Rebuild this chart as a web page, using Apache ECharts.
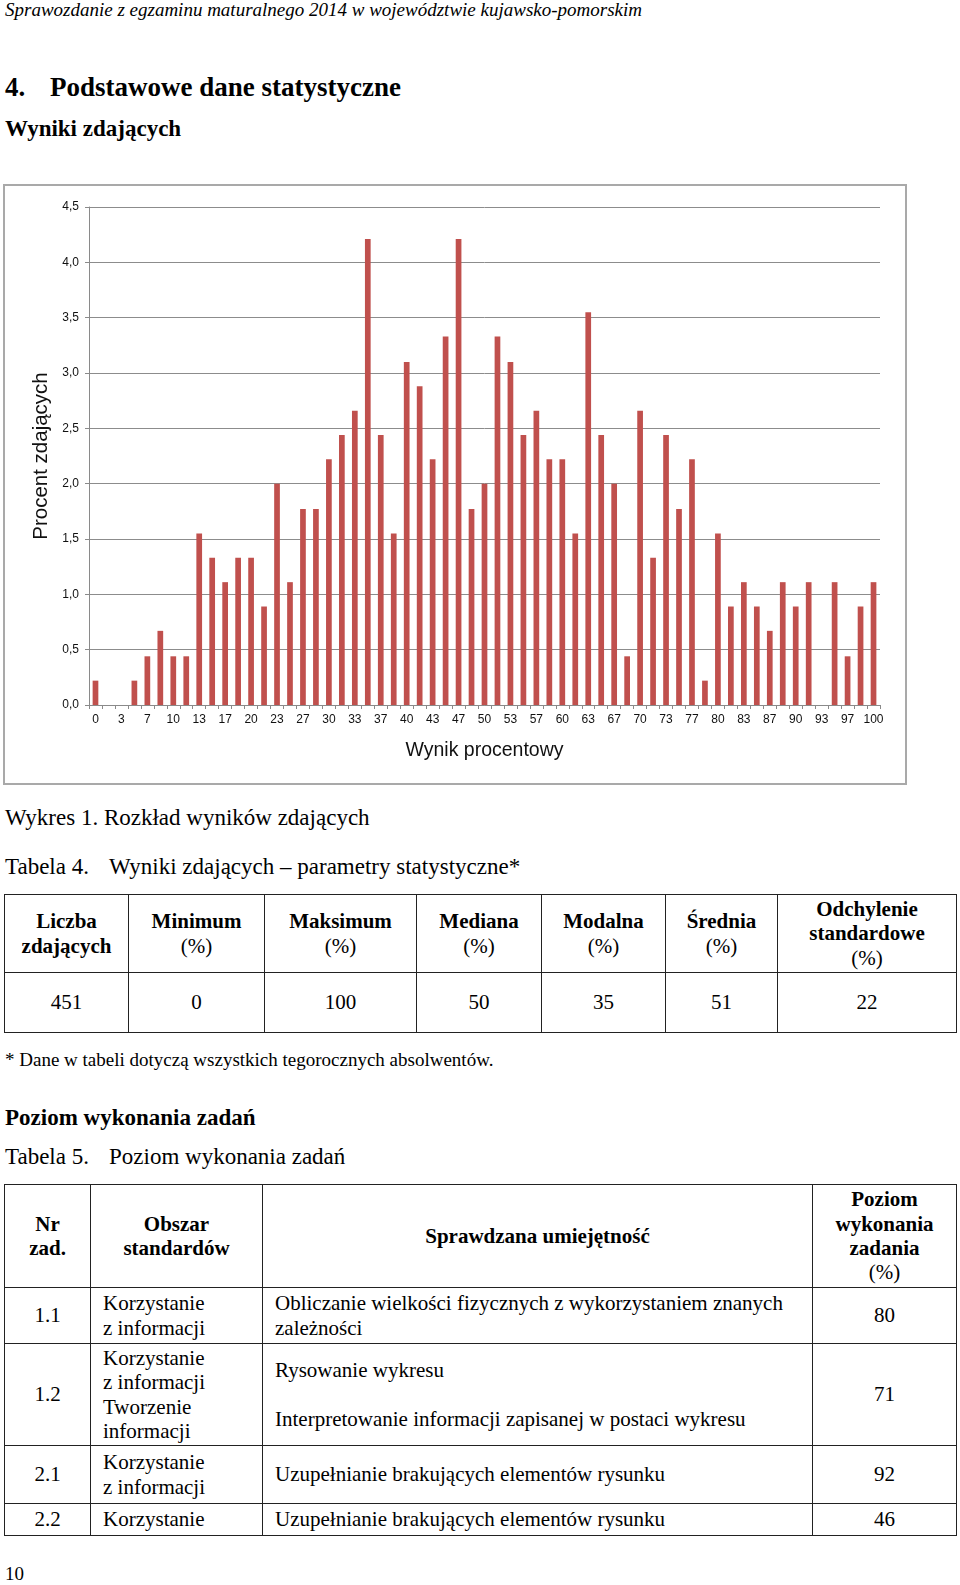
<!DOCTYPE html>
<html>
<head>
<meta charset="utf-8">
<script src="https://cdn.jsdelivr.net/npm/echarts@6/dist/echarts.min.js"></script>
<style>
  html, body { margin: 0; padding: 0; background: #fff; }
  body { width: 960px; height: 1585px; position: relative; overflow: hidden; font-family: 'Liberation Serif', 'Times New Roman', serif; color: #000; }
  .t { position: absolute; white-space: nowrap; line-height: 1; }
  #chart { position: absolute; left: 3px; top: 184px; width: 904px; height: 601px; }
  table { position: absolute; border-collapse: collapse; table-layout: fixed; font-family: 'Liberation Serif', serif; font-size: 21px; line-height: 24.4px; }
  td { border: 1.5px solid #222; padding: 0; vertical-align: middle; }
  .c { text-align: center; }
  .l { text-align: left; padding-left: 12px; }
  .b { font-weight: bold; }
  .n { font-weight: normal; }
</style>
</head>
<body>
<div class="t" style="left:5px; top:0px; font-size:19px; font-style:italic;">Sprawozdanie z egzaminu maturalnego 2014 w województwie kujawsko-pomorskim</div>
<div class="t" style="left:5px; top:74px; font-size:27px; font-weight:bold;">4.</div>
<div class="t" style="left:50px; top:74px; font-size:27px; font-weight:bold;">Podstawowe dane statystyczne</div>
<div class="t" style="left:5px; top:117px; font-size:23px; font-weight:bold;">Wyniki zdających</div>

<div id="chart"></div>

<div class="t" style="left:5px; top:806px; font-size:23px;">Wykres 1. Rozkład wyników zdających</div>
<div class="t" style="left:5px; top:855px; font-size:23px;">Tabela 4.</div>
<div class="t" style="left:109px; top:855px; font-size:23px;">Wyniki zdających – parametry statystyczne*</div>

<table style="left:4px; top:894px; width:952px;">
  <colgroup><col style="width:124px"><col style="width:136px"><col style="width:152px"><col style="width:125px"><col style="width:124px"><col style="width:112px"><col style="width:179px"></colgroup>
  <tr style="height:78px;">
    <td class="c b">Liczba<br>zdających</td>
    <td class="c b">Minimum<br><span class="n">(%)</span></td>
    <td class="c b">Maksimum<br><span class="n">(%)</span></td>
    <td class="c b">Mediana<br><span class="n">(%)</span></td>
    <td class="c b">Modalna<br><span class="n">(%)</span></td>
    <td class="c b">Średnia<br><span class="n">(%)</span></td>
    <td class="c b">Odchylenie<br>standardowe<br><span class="n">(%)</span></td>
  </tr>
  <tr style="height:60px;">
    <td class="c">451</td><td class="c">0</td><td class="c">100</td><td class="c">50</td><td class="c">35</td><td class="c">51</td><td class="c">22</td>
  </tr>
</table>

<div class="t" style="left:5px; top:1050px; font-size:19px;">* Dane w tabeli dotyczą wszystkich tegorocznych absolwentów.</div>
<div class="t" style="left:5px; top:1106px; font-size:23px; font-weight:bold;">Poziom wykonania zadań</div>
<div class="t" style="left:5px; top:1145px; font-size:23px;">Tabela 5.</div>
<div class="t" style="left:109px; top:1145px; font-size:23px;">Poziom wykonania zadań</div>

<table style="left:4px; top:1184px; width:952px;">
  <colgroup><col style="width:86px"><col style="width:172px"><col style="width:550px"><col style="width:144px"></colgroup>
  <tr style="height:103px;">
    <td class="c b">Nr<br>zad.</td>
    <td class="c b">Obszar<br>standardów</td>
    <td class="c b">Sprawdzana umiejętność</td>
    <td class="c b">Poziom<br>wykonania<br>zadania<br><span class="n">(%)</span></td>
  </tr>
  <tr style="height:56px;">
    <td class="c">1.1</td>
    <td class="l">Korzystanie<br>z informacji</td>
    <td class="l">Obliczanie wielkości fizycznych z wykorzystaniem znanych<br>zależności</td>
    <td class="c">80</td>
  </tr>
  <tr style="height:102px;">
    <td class="c">1.2</td>
    <td class="l">Korzystanie<br>z informacji<br>Tworzenie<br>informacji</td>
    <td class="l">Rysowanie wykresu<br><br>Interpretowanie informacji zapisanej w postaci wykresu</td>
    <td class="c">71</td>
  </tr>
  <tr style="height:58px;">
    <td class="c">2.1</td>
    <td class="l">Korzystanie<br>z informacji</td>
    <td class="l">Uzupełnianie brakujących elementów rysunku</td>
    <td class="c">92</td>
  </tr>
  <tr style="height:32px;">
    <td class="c">2.2</td>
    <td class="l">Korzystanie</td>
    <td class="l">Uzupełnianie brakujących elementów rysunku</td>
    <td class="c">46</td>
  </tr>
</table>

<div class="t" style="left:5px; top:1564px; font-size:19px;">10</div>

<script>
// Wynik procentowy (categories, score k/60 in percent)
var categories = ['0','2','3','5','7','8','10','12','13','15',
  '17','18','20','22','23','25','27','28','30','32',
  '33','35','37','38','40','42','43','45','47','48',
  '50','52','53','55','57','58','60','62','63','65',
  '67','68','70','72','73','75','77','78','80','82',
  '83','85','87','88','90','92','93','95','97','98',
  '100'];
// Procent zdających
var percentStudents = [0.22, 0, 0, 0.22, 0.44, 0.67, 0.44, 0.44, 1.55, 1.33,
  1.11, 1.33, 1.33, 0.89, 2.00, 1.11, 1.77, 1.77, 2.22, 2.44,
  2.66, 4.21, 2.44, 1.55, 3.10, 2.88, 2.22, 3.33, 4.21, 1.77,
  2.00, 3.33, 3.10, 2.44, 2.66, 2.22, 2.22, 1.55, 3.55, 2.44,
  2.00, 0.44, 2.66, 1.33, 2.44, 1.77, 2.22, 0.22, 1.55, 0.89,
  1.11, 0.89, 0.67, 1.11, 0.89, 1.11, 0, 1.11, 0.44, 0.89,
  1.11];
var yTickLabels = ['0,0','0,5','1,0','1,5','2,0','2,5','3,0','3,5','4,0','4,5'];

var chart = echarts.init(document.getElementById('chart'), null, { renderer: 'canvas' });
var sans = "'Liberation Sans', Arial, sans-serif";
chart.setOption({
  animation: false,
  backgroundColor: '#fff',
  graphic: [{
    type: 'rect', silent: true, z: 100,
    shape: { x: 1, y: 1, width: 902, height: 599 },
    style: { fill: 'none', stroke: '#a9a9a9', lineWidth: 2 }
  }],
  grid: { left: 86, right: 27, top: 23, bottom: 80, containLabel: false },
  xAxis: {
    type: 'category',
    data: categories,
    name: 'Wynik procentowy',
    nameLocation: 'middle',
    nameGap: 36,
    nameTextStyle: { fontFamily: sans, fontSize: 19.5, color: '#111' },
    axisLine: { show: true, lineStyle: { color: '#8a8a8a', width: 1 } },
    axisTick: { show: true, interval: 0, length: 4, lineStyle: { color: '#8a8a8a' } },
    axisLabel: { interval: 1, fontFamily: sans, fontSize: 12, color: '#111', margin: 9 }
  },
  yAxis: {
    type: 'value',
    min: 0, max: 4.5, interval: 0.5,
    name: 'Procent zdających',
    nameLocation: 'middle',
    nameRotate: 90,
    nameGap: 36,
    nameTextStyle: { fontFamily: sans, fontSize: 20.5, color: '#111' },
    axisLine: { show: true, lineStyle: { color: '#8a8a8a', width: 1 } },
    axisTick: { show: true, length: 4, lineStyle: { color: '#8a8a8a' } },
    splitLine: { show: true, lineStyle: { color: '#8c8c8c', width: 1 } },
    axisLabel: {
      fontFamily: sans, fontSize: 12, color: '#111', margin: 10,
      formatter: function (v) { return yTickLabels[Math.round(v / 0.5)]; }
    }
  },
  series: [{
    type: 'bar',
    data: percentStudents,
    barWidth: '44%',
    itemStyle: { color: '#C0504D' }
  }]
});
</script>
</body>
</html>
